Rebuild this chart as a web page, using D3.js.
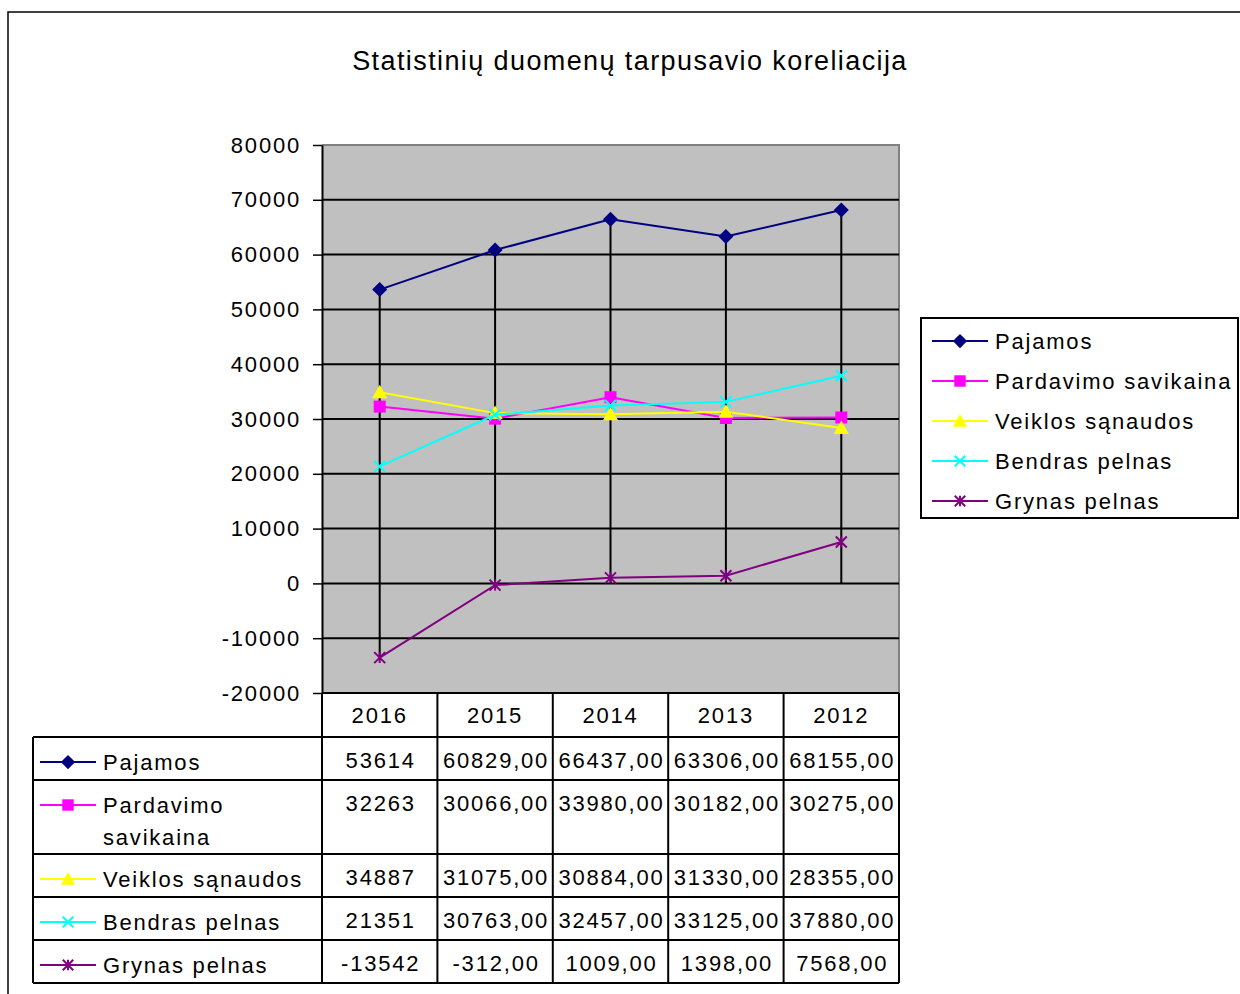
<!DOCTYPE html>
<html>
<head>
<meta charset="utf-8">
<script src="https://cdn.jsdelivr.net/npm/d3@7"></script>
<style>
  body { margin: 0; background: #fff; }
  text { font-family: "Liberation Sans", Arial, sans-serif; letter-spacing: 1.8px; fill: #000; }
</style>
</head>
<body>
<svg id="chart" width="1240" height="994"></svg>
<script>
// data
var years = ['2016', '2015', '2014', '2013', '2012'];
var seriesNames = ['Pajamos', 'Pardavimo savikaina', 'Veiklos sąnaudos', 'Bendras pelnas', 'Grynas pelnas'];
var pajamos = [53614, 60829, 66437, 63306, 68155];
var pardavimo = [32263, 30066, 33980, 30182, 30275];
var veiklos = [34887, 31075, 30884, 31330, 28355];
var bendras = [21351, 30763, 32457, 33125, 37880];
var grynas = [-13542, -312, 1009, 1398, 7568];
var yTicks = [-20000, -10000, 0, 10000, 20000, 30000, 40000, 50000, 60000, 70000, 80000];
// table label wrapping and decimals shown per column
var tableLabels = [['Pajamos'], ['Pardavimo', 'savikaina'], ['Veiklos sąnaudos'], ['Bendras pelnas'], ['Grynas pelnas']];
var colDecimals = [0, 2, 2, 2, 2];

var allSeries = [pajamos, pardavimo, veiklos, bendras, grynas];
var colors = ['#000080', '#ff00ff', '#ffff00', '#00ffff', '#800080'];
var markerTypes = ['diamond', 'square', 'triangle', 'x', 'star'];

var svg = d3.select('#chart');

var plot = { left: 322, right: 899, top: 145, bottom: 693 };

var x = d3.scaleBand().domain(years).range([plot.left, plot.right]);
var y = d3.scaleLinear().domain([-20000, 80000]).range([plot.bottom, plot.top]);
var cx = function (yr) { return x(yr) + x.bandwidth() / 2; };

// outer chart frame
svg.append('path')
  .attr('d', 'M8,994V12H1240')
  .attr('fill', 'none').attr('stroke', '#000').attr('stroke-width', 1.5);

// title
svg.append('text')
  .attr('x', 630).attr('y', 70)
  .attr('text-anchor', 'middle')
  .style('font-size', '27px')
  .style('letter-spacing', '1.4px')
  .text('Statistinių duomenų tarpusavio koreliacija');

// plot area
svg.append('rect')
  .attr('x', plot.left).attr('y', plot.top)
  .attr('width', plot.right - plot.left).attr('height', plot.bottom - plot.top)
  .attr('fill', '#c0c0c0');
svg.append('path')
  .attr('d', 'M' + plot.left + ',' + plot.top + 'H' + plot.right + 'V' + plot.bottom)
  .attr('fill', 'none').attr('stroke', '#808080').attr('stroke-width', 2);

// gridlines
svg.append('g').selectAll('line')
  .data(yTicks.filter(function (d) { return d > -20000 && d < 80000; }))
  .enter().append('line')
  .attr('x1', plot.left).attr('x2', plot.right)
  .attr('y1', function (d) { return y(d); }).attr('y2', function (d) { return y(d); })
  .attr('stroke', '#000').attr('stroke-width', 2);

// y axis
var yAxis = svg.append('g')
  .attr('transform', 'translate(' + plot.left + ',0)')
  .call(d3.axisLeft(y).tickValues(yTicks).tickSize(9).tickSizeOuter(0).tickPadding(12)
    .tickFormat(function (d) { return String(d); }));
yAxis.select('.domain').attr('stroke', '#000').attr('stroke-width', 2);
yAxis.selectAll('.tick line').attr('stroke', '#000').attr('stroke-width', 1.5);
yAxis.selectAll('.tick text').style('font-size', '22px').attr('fill', '#000')
  .style('font-family', '"Liberation Sans", Arial, sans-serif');

// high-low lines
svg.append('g').selectAll('line')
  .data(years)
  .enter().append('line')
  .attr('x1', function (d) { return cx(d); }).attr('x2', function (d) { return cx(d); })
  .attr('y1', function (d, i) { return y(d3.max(allSeries, function (s) { return s[i]; })); })
  .attr('y2', function (d, i) { return y(Math.min(0, d3.min(allSeries, function (s) { return s[i]; }))); })
  .attr('stroke', '#000').attr('stroke-width', 2);

// marker helper
function drawMarker(g, type, color, px, py, k) {
  var r;
  if (type === 'diamond') {
    r = 7.5 * k;
    g.append('path').attr('d', 'M' + px + ',' + (py - r) + 'L' + (px + r) + ',' + py + 'L' + px + ',' + (py + r) + 'L' + (px - r) + ',' + py + 'Z')
      .attr('fill', color);
  } else if (type === 'square') {
    r = 6 * k;
    g.append('rect').attr('x', px - r).attr('y', py - r).attr('width', 2 * r).attr('height', 2 * r)
      .attr('fill', color);
  } else if (type === 'triangle') {
    r = 7.5 * k;
    g.append('path').attr('d', 'M' + px + ',' + (py - r) + 'L' + (px + r) + ',' + (py + r * 0.8) + 'L' + (px - r) + ',' + (py + r * 0.8) + 'Z')
      .attr('fill', color);
  } else {
    r = 5.5 * k;
    var d = 'M' + (px - r) + ',' + (py - r) + 'L' + (px + r) + ',' + (py + r) +
            'M' + (px - r) + ',' + (py + r) + 'L' + (px + r) + ',' + (py - r);
    if (type === 'star') d += 'M' + px + ',' + (py - r) + 'L' + px + ',' + (py + r);
    g.append('path').attr('d', d).attr('fill', 'none').attr('stroke', color).attr('stroke-width', 2);
  }
}

// series
var line = d3.line()
  .x(function (d, i) { return cx(years[i]); })
  .y(function (d) { return y(d); });

allSeries.forEach(function (s, k) {
  var g = svg.append('g');
  g.append('path').datum(s)
    .attr('d', line)
    .attr('fill', 'none').attr('stroke', colors[k]).attr('stroke-width', 2);
  s.forEach(function (v, i) {
    drawMarker(g, markerTypes[k], colors[k], cx(years[i]), y(v), 1);
  });
});

// legend
var legend = svg.append('g');
legend.append('rect')
  .attr('x', 921).attr('y', 318).attr('width', 317).attr('height', 200)
  .attr('fill', '#fff').attr('stroke', '#000').attr('stroke-width', 2);
seriesNames.forEach(function (name, k) {
  var ly = 341 + k * 40;
  legend.append('line').attr('x1', 932).attr('x2', 988).attr('y1', ly).attr('y2', ly)
    .attr('stroke', colors[k]).attr('stroke-width', 2);
  drawMarker(legend, markerTypes[k], colors[k], 960, ly, 0.95);
  legend.append('text').attr('x', 995).attr('y', ly + 8).style('font-size', '22px').text(name);
});

// data table
var table = svg.append('g');
var fmt2 = d3.format('.2f');
function cellText(v, col) {
  var s = colDecimals[col] === 0 ? String(v) : fmt2(v).replace('.', ',');
  return s.replace('\u2212', '-');
}

var rowTops = [plot.bottom + 44];
tableLabels.forEach(function (lines, k) {
  rowTops.push(rowTops[k] + 12 + 31 * lines.length);
});
var tableLeft = 33;
var colEdges = years.map(function (d) { return x(d); }).concat([plot.right]);

// header years
years.forEach(function (yr) {
  table.append('text').attr('x', cx(yr)).attr('y', plot.bottom + 30)
    .attr('text-anchor', 'middle').style('font-size', '22px').text(yr);
});

// rows
tableLabels.forEach(function (lines, k) {
  var top = rowTops[k];
  var ky = top + 25;
  table.append('line').attr('x1', 40).attr('x2', 96).attr('y1', ky).attr('y2', ky)
    .attr('stroke', colors[k]).attr('stroke-width', 2);
  drawMarker(table, markerTypes[k], colors[k], 68, ky, 0.95);
  lines.forEach(function (t, j) {
    table.append('text').attr('x', 103).attr('y', top + 33 + j * 32)
      .style('font-size', '22px').text(t);
  });
  allSeries[k].forEach(function (v, i) {
    table.append('text').attr('x', cx(years[i]) + 1).attr('y', top + 31)
      .attr('text-anchor', 'middle').style('font-size', '22px').text(cellText(v, i));
  });
});

// table grid
table.append('line').attr('x1', plot.left).attr('x2', plot.right)
  .attr('y1', plot.bottom).attr('y2', plot.bottom)
  .attr('stroke', '#000').attr('stroke-width', 2);
rowTops.forEach(function (ty) {
  table.append('line').attr('x1', tableLeft).attr('x2', plot.right).attr('y1', ty).attr('y2', ty)
    .attr('stroke', '#000').attr('stroke-width', 2);
});
table.append('line').attr('x1', tableLeft).attr('x2', tableLeft)
  .attr('y1', rowTops[0]).attr('y2', rowTops[rowTops.length - 1])
  .attr('stroke', '#000').attr('stroke-width', 2);
colEdges.forEach(function (ex) {
  table.append('line').attr('x1', ex).attr('x2', ex)
    .attr('y1', plot.bottom).attr('y2', rowTops[rowTops.length - 1])
    .attr('stroke', '#000').attr('stroke-width', 2);
});
</script>
</body>
</html>
